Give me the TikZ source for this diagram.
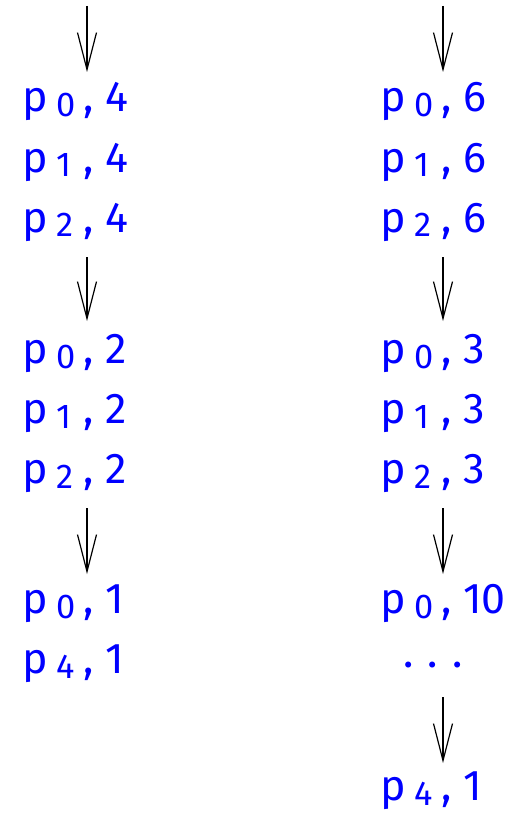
\documentclass[tikz,border=0pt]{standalone}
\usepackage{fontspec}
\setmainfont{Fira Sans}
\usetikzlibrary{arrows.meta}
\newcommand\pv[2]{\makebox[34pt][l]{p}\raisebox{-5pt}{\makebox[27pt][l]{\scalebox{0.8}{#1}}}\makebox[22pt][l]{,}#2}
\tikzset{
  lbl/.style={anchor=base west, inner sep=0pt, text=blue, font=\fontsize{43}{50}\selectfont},
  dotsl/.style={anchor=base, inner sep=0pt, text=blue, font=\fontsize{43}{50}\selectfont},
  arr/.style={line width=1.2pt, -{Straight Barb[length=37pt,width=19pt,line width=1.2pt]}}
}
\begin{document}
\begin{tikzpicture}[x=1pt,y=1pt]
\useasboundingbox (0,0) rectangle (525,-813);
% left column
\node[lbl] (l1) at (22,-112) {\pv{0}{4}};
\node[lbl] (l2) at (22,-172) {\pv{1}{4}};
\node[lbl] (l3) at (22,-232) {\pv{2}{4}};
\node[lbl] (l4) at (22,-363) {\pv{0}{2}};
\node[lbl] (l5) at (22,-423) {\pv{1}{2}};
\node[lbl] (l6) at (22,-483) {\pv{2}{2}};
\node[lbl] (l7) at (22,-613) {\pv{0}{1}};
\node[lbl] (l8) at (22,-673) {\pv{4}{1}};
% right column
\node[lbl] (r1) at (380,-112) {\pv{0}{6}};
\node[lbl] (r2) at (380,-172) {\pv{1}{6}};
\node[lbl] (r3) at (380,-232) {\pv{2}{6}};
\node[lbl] (r4) at (380,-363) {\pv{0}{3}};
\node[lbl] (r5) at (380,-423) {\pv{1}{3}};
\node[lbl] (r6) at (380,-483) {\pv{2}{3}};
\node[lbl] (r7) at (380,-613) {\pv{0}{10}};
\node[dotsl] (rd) at (433,-667) {.\kern14pt.\kern14pt.};
\node[lbl] (r8) at (380,-800) {\pv{4}{1}};
% arrow coordinates
\coordinate (la1s) at (87,-6);   \coordinate (la1e) at (87,-72);
\coordinate (la2s) at (87,-257); \coordinate (la2e) at (87,-321);
\coordinate (la3s) at (87,-508); \coordinate (la3e) at (87,-574);
\coordinate (ra1s) at (443,-6);   \coordinate (ra1e) at (443,-72);
\coordinate (ra2s) at (443,-257); \coordinate (ra2e) at (443,-321);
\coordinate (ra3s) at (443,-508); \coordinate (ra3e) at (443,-574);
\coordinate (ra4s) at (443,-697); \coordinate (ra4e) at (443,-763);
\draw[arr] (la1s) -- (la1e);
\draw[arr] (la2s) -- (la2e);
\draw[arr] (la3s) -- (la3e);
\draw[arr] (ra1s) -- (ra1e);
\draw[arr] (ra2s) -- (ra2e);
\draw[arr] (ra3s) -- (ra3e);
\draw[arr] (ra4s) -- (ra4e);
\end{tikzpicture}
\end{document}
